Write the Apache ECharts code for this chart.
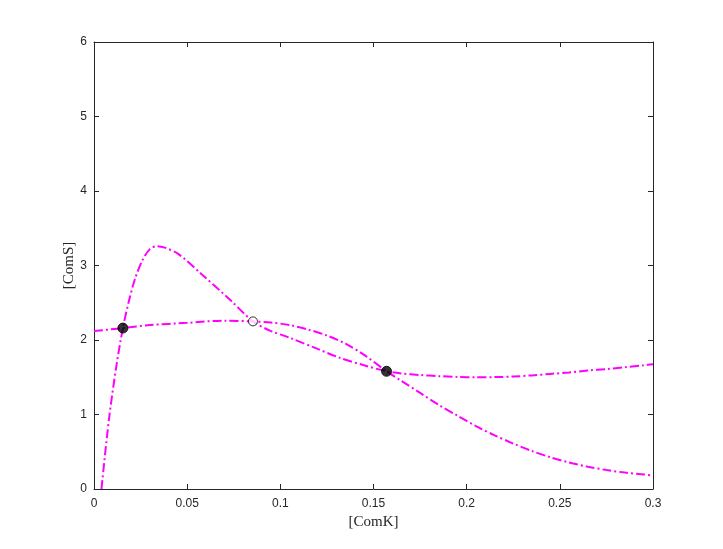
<!DOCTYPE html>
<html><head><meta charset="utf-8">
<script src="https://cdn.jsdelivr.net/npm/echarts@6/dist/echarts.min.js"></script>
<style>html,body{margin:0;padding:0;background:#fff}#c{width:723px;height:549px}</style>
</head><body><div id="c"></div>
<script>
var curveAx = [0.0040,0.0080,0.0120,0.0155,0.0190,0.0220,0.0260,0.0300,0.0340,0.0380,0.0450,0.0570,0.0730,0.0853,0.0950,0.1050,0.1200,0.1320,0.1450,0.1570,0.1650,0.1750,0.1850,0.1950,0.2050,0.2150,0.2250,0.2350,0.2450,0.2550,0.2650,0.2750,0.2850,0.2950,0.3000];
var curveAy = [0,0.93,1.65,2.16,2.55,2.82,3.07,3.22,3.26,3.24,3.16,2.90,2.54,2.25,2.12,2.03,1.88,1.76,1.66,1.58,1.55,1.53,1.515,1.505,1.50,1.502,1.51,1.525,1.545,1.565,1.59,1.61,1.635,1.66,1.675];
var curveBx = [0,0.0155,0.03,0.05,0.07,0.085,0.095,0.105,0.115,0.125,0.135,0.145,0.157,0.165,0.175,0.185,0.195,0.205,0.215,0.225,0.235,0.245,0.255,0.265,0.275,0.285,0.295,0.3];
var curveBy = [2.12,2.16,2.20,2.23,2.26,2.25,2.235,2.20,2.14,2.06,1.95,1.80,1.58,1.45,1.29,1.13,0.985,0.845,0.72,0.61,0.51,0.425,0.355,0.30,0.255,0.22,0.195,0.18];
var stableX = [0.0155,0.157];
var stableY = [2.16,1.58];
var unstableX = [0.0853];
var unstableY = [2.25];

function pairs(xs, ys){ return xs.map(function(x,i){return [x, ys[i]];}); }
var dash = [9,3,2,3];
var axisCommon = {
  axisLine:{show:true,onZero:false,lineStyle:{color:'#262626',width:1}},
  axisTick:{show:true,inside:true,length:5,lineStyle:{color:'#262626'}},
  splitLine:{show:false}
};
var chart = echarts.init(document.getElementById('c'));
chart.setOption({
  animation:false,
  backgroundColor:'#fff',
  grid:{left:94,right:70,top:42,bottom:60,containLabel:false},
  xAxis:[
    Object.assign({type:'value',min:0,max:0.3,interval:0.05,position:'bottom',
      name:'[ComK]',nameLocation:'middle',nameGap:26,nameMoveOverlap:false,
      nameTextStyle:{fontFamily:'Liberation Serif',fontSize:15,color:'#262626'},
      axisLabel:{fontFamily:'Liberation Sans',fontSize:12,color:'#262626',margin:9,
        formatter:function(v){return String(parseFloat(v.toFixed(2)));}}},axisCommon),
    Object.assign({type:'value',min:0,max:0.3,interval:0.05,position:'top',axisLabel:{show:false}},axisCommon)
  ],
  yAxis:[
    Object.assign({type:'value',min:0,max:6,interval:1,position:'left',
      name:'[ComS]',nameLocation:'middle',nameGap:17,nameMoveOverlap:false,
      nameTextStyle:{fontFamily:'Liberation Serif',fontSize:15,color:'#262626'},
      axisLabel:{fontFamily:'Liberation Sans',fontSize:12,color:'#262626',margin:7}},axisCommon),
    Object.assign({type:'value',min:0,max:6,interval:1,position:'right',axisLabel:{show:false}},axisCommon)
  ],
  series:[
    {type:'line',data:pairs(curveAx,curveAy),smooth:0.3,symbol:'none',
      lineStyle:{color:'#ff00ff',width:2,type:dash}},
    {type:'line',data:pairs(curveBx,curveBy),smooth:0.3,symbol:'none',
      lineStyle:{color:'#ff00ff',width:2,type:dash}},
    {type:'scatter',data:pairs(stableX,stableY),symbol:'circle',symbolSize:10,
      itemStyle:{color:'#000',borderColor:'#000',borderWidth:1},z:5},
    {type:'scatter',data:pairs(unstableX,unstableY),symbol:'circle',symbolSize:9,
      itemStyle:{color:'#fff',borderColor:'#000',borderWidth:1},z:5}
  ]
});
</script></body></html>
